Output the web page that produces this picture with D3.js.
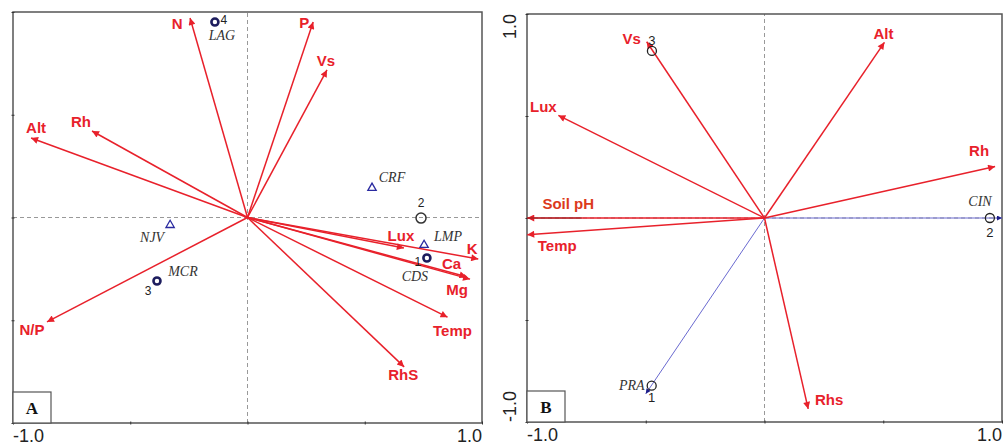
<!DOCTYPE html>
<html><head><meta charset="utf-8">
<script src="https://cdn.jsdelivr.net/npm/d3@7"></script>
<style>body{margin:0;background:#fff}svg{display:block}</style>
</head><body><svg id="c" width="1003" height="446"></svg>
<script>
// ---------- Panel A data ----------
const envA = ["N","P","Vs","Alt","Rh","N/P","Lux","K","Ca","Mg","Temp","RhS"];
const envAx = [-0.245, 0.280, 0.339, -0.923, -0.663, -0.855, 0.667, 0.984, 0.934, 0.949, 0.853, 0.668];
const envAy = [0.971, 0.951, 0.718, 0.387, 0.421, -0.508, -0.148, -0.202, -0.288, -0.300, -0.485, -0.727];
const sitesA = ["4","2","1","3"];
const sitesAx = [-0.139, 0.740, 0.765, -0.386];
const sitesAy = [0.951, -0.003, -0.197, -0.309];
const sitesAfilled = [true, false, true, true];
const sitesANames = ["LAG","","CDS","MCR"];
const specA = ["CRF","LMP","NJV"];
const specAx = [0.531, 0.753, -0.330];
const specAy = [0.144, -0.134, -0.037];

// ---------- Panel B data ----------
const envB = ["Vs","Alt","Lux","Rh","Soil pH","Temp","Rhs"];
const envBx = [-0.496, 0.505, -0.868, 0.971, -0.999, -0.999, 0.184];
const envBy = [0.864, 0.861, 0.503, 0.252, 0.000, -0.082, -0.936];
const sitesB = ["3","2","1"];
const sitesBx = [-0.474, 0.949, -0.475];
const sitesBy = [0.819, 0.000, -0.822];
const specB = ["CIN","PRA"];
const specBx = [1.000, -0.500];
const specBy = [0.000, -0.862];

const tickLabels = ["-1.0","1.0"];

// ---------- layout (pixel offsets for labels) ----------
const offA = {"N":[-13,6],"P":[-9,0],"Vs":[-1,-9],"Alt":[5,-10],"Rh":[-11,-9],"N/P":[-15,8],
  "Lux":[-3,-12],"K":[-6,-11],"Ca":[-15,-13],"Mg":[-13,10],"Temp":[5,13],"RhS":[-1,8]};
const offB = {"Vs":[-15,-3],"Alt":[-1,-9],"Lux":[-15,-9],"Rh":[-16,-16],"Soil pH":[41,-15],"Temp":[30,11],"Rhs":[21,-9]};

const RED = "#e8212b";
const svg = d3.select("#c");
const defs = svg.append("defs");
function marker(id, color, w, h){
  defs.append("marker").attr("id",id).attr("viewBox","0 0 10 10").attr("refX",10).attr("refY",5)
    .attr("markerWidth",w).attr("markerHeight",h).attr("markerUnits","userSpaceOnUse").attr("orient","auto")
    .append("path").attr("d","M0,0 L10,5 L0,10 Z").attr("fill",color);
}
marker("arR", RED, 11, 7);
marker("arBl", "#1c1c8a", 7, 5);

function panel(x0,x1,y0,y1){
  const x = d3.scaleLinear().domain([-1,1]).range([x0,x1]);
  const y = d3.scaleLinear().domain([-1,1]).range([y1,y0]);
  const g = svg.append("g");
  g.append("line").attr("x1",x(-1)).attr("x2",x(1)).attr("y1",y(0)).attr("y2",y(0))
    .attr("stroke","#999").attr("stroke-width",1).attr("stroke-dasharray","4,3");
  g.append("line").attr("x1",x(0)).attr("x2",x(0)).attr("y1",y(-1)).attr("y2",y(1))
    .attr("stroke","#999").attr("stroke-width",1).attr("stroke-dasharray","4,3");
  g.append("rect").attr("x",x0).attr("y",y0).attr("width",x1-x0).attr("height",y1-y0)
    .attr("fill","none").attr("stroke","#555").attr("stroke-width",1.5);
  const xa = d3.axisBottom(x).tickValues([-1,-0.5,0,0.5,1]).tickSize(3).tickFormat("");
  const ya = d3.axisLeft(y).tickValues([-1,-0.5,0,0.5,1]).tickSize(3).tickFormat("");
  g.append("g").attr("transform",`translate(0,${y1})`).call(xa).call(s=>{s.select(".domain").remove();s.selectAll("line").attr("stroke","#333").attr("transform","translate(0,-1.5)");});
  g.append("g").attr("transform",`translate(${x0},0)`).call(ya).call(s=>{s.select(".domain").remove();s.selectAll("line").attr("stroke","#333").attr("transform","translate(1.5,0)");});
  g.append("text").attr("x",x(-1)).attr("y",y1+19).attr("text-anchor","start")
    .attr("font-family","Liberation Sans, Arial, sans-serif").attr("font-size",18).attr("fill","#222").text(tickLabels[0]);
  g.append("text").attr("x",x(1)).attr("y",y1+19).attr("text-anchor","end")
    .attr("font-family","Liberation Sans, Arial, sans-serif").attr("font-size",18).attr("fill","#222").text(tickLabels[1]);
  return {x,y,g};
}

function arrows(p, names, xs, ys, off, colorFn){
  names.forEach((n,i)=>{
    p.g.append("line").attr("x1",p.x(0)).attr("y1",p.y(0)).attr("x2",p.x(xs[i])).attr("y2",p.y(ys[i]))
      .attr("stroke",RED).attr("stroke-width",1.5).attr("marker-end","url(#arR)");
  });
  names.forEach((n,i)=>{
    const o = off[n];
    p.g.append("text").attr("x",p.x(xs[i])+o[0]).attr("y",p.y(ys[i])+o[1])
      .attr("text-anchor","middle").attr("dominant-baseline","central")
      .attr("font-family","Liberation Sans, Arial, sans-serif").attr("font-weight","bold").attr("font-size",15)
      .attr("fill",colorFn? colorFn(n):RED).text(n);
  });
}
function boxLabel(p, t){
  const x0 = p.x(-1), y1 = p.y(-1);
  p.g.append("rect").attr("x",x0).attr("y",y1-31).attr("width",38).attr("height",31)
    .attr("fill","#fff").attr("stroke","#555").attr("stroke-width",1.2);
  p.g.append("text").attr("x",x0+19).attr("y",y1-9).attr("text-anchor","middle")
    .attr("font-family","Liberation Serif, Times New Roman, serif").attr("font-weight","bold").attr("font-size",17).attr("fill","#111").text(t);
}
const serif = "Liberation Serif, Times New Roman, serif";
const sans = "Liberation Sans, Arial, sans-serif";

// ================= Panel A =================
const A = panel(13, 482, 12, 423);
arrows(A, envA, envAx, envAy, offA);
const triOffA = {"CRF":[20,-10],"LMP":[24,-9],"NJV":[-18,12]};
specA.forEach((s,i)=>{
  const cx=A.x(specAx[i]), cy=A.y(specAy[i]);
  A.g.append("path").attr("d",d3.symbol().type(d3.symbolTriangle).size(30)()).attr("transform",`translate(${cx},${cy})`)
    .attr("fill","#fff").attr("stroke","#2a2aa0").attr("stroke-width",1.3);
  A.g.append("text").attr("x",cx+triOffA[s][0]).attr("y",cy+triOffA[s][1]).attr("text-anchor","middle").attr("dominant-baseline","central")
    .attr("font-family",serif).attr("font-style","italic").attr("font-size",14).attr("fill","#333").text(s);
});
const numOffA = {"4":[9,-2],"2":[0,-15],"1":[-9,4],"3":[-9,10]};
const nameOffA = {"LAG":[7,13],"CDS":[-12,19],"MCR":[26,-9]};
sitesA.forEach((s,i)=>{
  const cx=A.x(sitesAx[i]), cy=A.y(sitesAy[i]);
  if(sitesAfilled[i]){
    A.g.append("circle").attr("cx",cx).attr("cy",cy).attr("r",3.5).attr("fill","#fff").attr("stroke","#1d1d5e").attr("stroke-width",2.6);
  } else {
    A.g.append("circle").attr("cx",cx).attr("cy",cy).attr("r",5).attr("fill","none").attr("stroke","#333").attr("stroke-width",1.5);
  }
  A.g.append("text").attr("x",cx+numOffA[s][0]).attr("y",cy+numOffA[s][1]).attr("text-anchor","middle").attr("dominant-baseline","central")
    .attr("font-family",sans).attr("font-size",12).attr("fill","#222").text(s);
  const nm = sitesANames[i];
  if(nm){
    A.g.append("text").attr("x",cx+nameOffA[nm][0]).attr("y",cy+nameOffA[nm][1]).attr("text-anchor","middle").attr("dominant-baseline","central")
      .attr("font-family",serif).attr("font-style","italic").attr("font-size",14).attr("fill","#333").text(nm);
  }
});
boxLabel(A,"A");

// ================= Panel B =================
const B = panel(527, 1002, 14, 422);
B.g.append("text").attr("transform",`translate(516,${B.y(1)}) rotate(-90)`).attr("text-anchor","end")
  .attr("font-family",sans).attr("font-size",18).attr("fill","#222").text(tickLabels[1]);
B.g.append("text").attr("transform",`translate(516,${B.y(-1)}) rotate(-90)`).attr("text-anchor","start")
  .attr("font-family",sans).attr("font-size",18).attr("fill","#222").text(tickLabels[0]);
specB.forEach((s,i)=>{
  B.g.append("line").attr("x1",B.x(0)).attr("y1",B.y(0)).attr("x2",B.x(specBx[i])).attr("y2",B.y(specBy[i]))
    .attr("stroke","#6a6ad0").attr("stroke-width",1).attr("marker-end","url(#arBl)");
});
arrows(B, envB, envBx, envBy, offB, n=> n==="Soil pH" ? "#dc3a1c" : RED);
B.g.append("line").attr("x1",B.x(-1)).attr("x2",B.x(-0.77)).attr("y1",B.y(0)).attr("y2",B.y(0)).attr("stroke","#7a2020").attr("stroke-width",0.8);
const numOffB = {"3":[0,-10],"2":[0,14],"1":[0,12]};
sitesB.forEach((s,i)=>{
  const cx=B.x(sitesBx[i]), cy=B.y(sitesBy[i]);
  B.g.append("circle").attr("cx",cx).attr("cy",cy).attr("r",4.5).attr("fill","none").attr("stroke","#222").attr("stroke-width",1.3);
  B.g.append("text").attr("x",cx+numOffB[s][0]).attr("y",cy+numOffB[s][1]).attr("text-anchor","middle").attr("dominant-baseline","central")
    .attr("font-family",sans).attr("font-size",13).attr("fill","#222").text(s);
});
const nameOffB = {"CIN":[-22,-17],"PRA":[-14,-8]};
specB.forEach((s,i)=>{
  const cx=B.x(specBx[i]), cy=B.y(specBy[i]);
  B.g.append("text").attr("x",cx+nameOffB[s][0]).attr("y",cy+nameOffB[s][1]).attr("text-anchor","middle").attr("dominant-baseline","central")
    .attr("font-family",serif).attr("font-style","italic").attr("font-size",14).attr("fill","#333").text(s);
});
boxLabel(B,"B");
</script></body></html>
